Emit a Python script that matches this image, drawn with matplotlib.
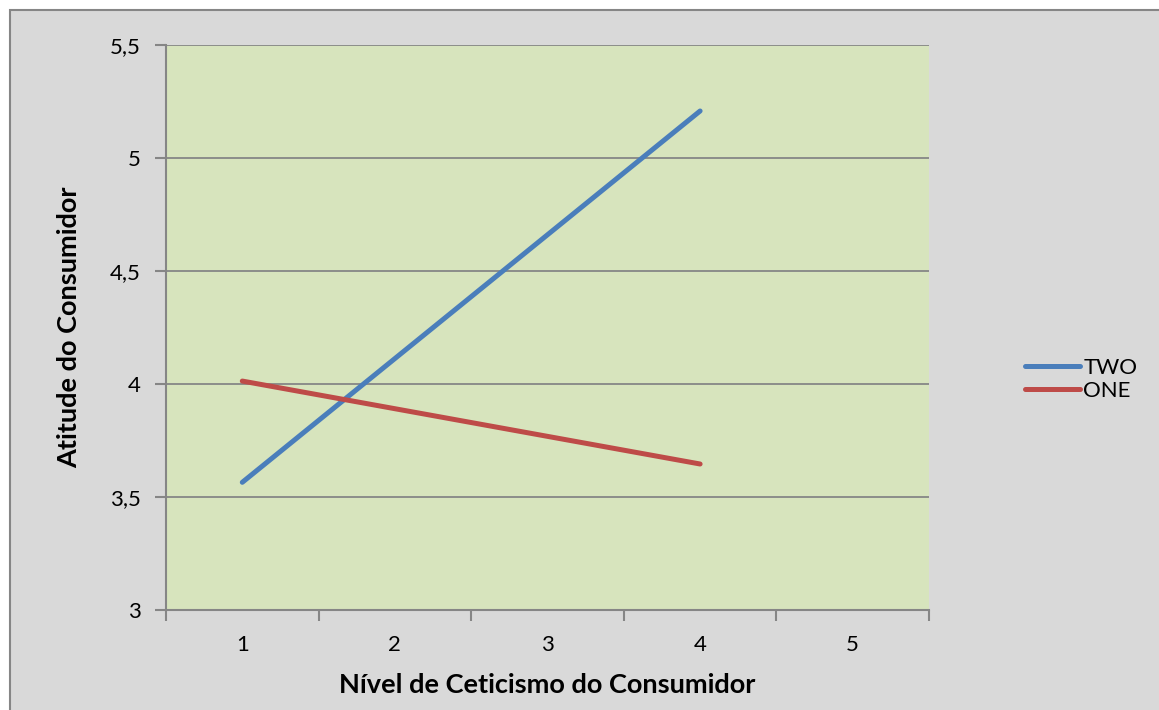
import matplotlib.pyplot as plt
from matplotlib.patches import Rectangle

plt.rcParams["font.family"] = ["Lato", "DejaVu Sans"]

# dados
niveis = [1, 4]
two = [3.565, 5.208]
one = [4.013, 3.646]
categorias = ["1", "2", "3", "4", "5"]
y_ticks = [3, 3.5, 4, 4.5, 5, 5.5]
y_labels = ["3", "3,5", "4", "4,5", "5", "5,5"]

W, H = 1159, 710
fig = plt.figure(figsize=(W / 100, H / 100), dpi=100, facecolor="white")

# fundo cinza da área do gráfico (com borda)
fig.patches.append(
    Rectangle((9.5 / W, -0.05), 1.1, 1 - 9.5 / H + 0.05,
              transform=fig.transFigure, facecolor="#d9d9d9",
              edgecolor="#868686", linewidth=1.5, zorder=-1)
)

ax = fig.add_axes([166 / W, 1 - 610 / H, (929 - 166) / W, (610 - 45) / H])
ax.set_facecolor("#d7e4bd")

ax.plot(niveis, two, color="#4a7ebb", linewidth=3.6, label="TWO",
        solid_capstyle="round", zorder=3)
ax.plot(niveis, one, color="#be4b48", linewidth=3.6, label="ONE",
        solid_capstyle="round", zorder=3)

ax.set_xlim(0.5, 5.5)
ax.set_ylim(3, 5.5)

ax.set_yticks(y_ticks)
ax.set_yticklabels(y_labels)
ax.set_xticks([i + 1.5 for i in range(-1, 5)])
ax.set_xticklabels([])
ax.set_xticks(range(1, 6), minor=True)
ax.set_xticklabels(categorias, minor=True)

ax.tick_params(axis="y", length=8, width=1.5, color="#868686",
               labelsize=16, pad=10)
ax.tick_params(axis="x", which="major", length=8, width=1.5, color="#868686")
ax.tick_params(axis="x", which="minor", length=0, labelsize=16, pad=18)

ax.grid(axis="y", color="#868686", linewidth=1.3)
ax.set_axisbelow(True)
for s in ["top", "right"]:
    ax.spines[s].set_visible(False)
for s in ["left", "bottom"]:
    ax.spines[s].set_color("#868686")
    ax.spines[s].set_linewidth(1.5)

ax.set_xlabel("Nível de Ceticismo do Consumidor", fontsize=19.5,
              fontweight="bold", labelpad=13)
ax.set_ylabel("Atitude do Consumidor", fontsize=19.5, fontweight="bold",
              labelpad=21)

leg = ax.legend(loc="center left", bbox_to_anchor=(1.099, 0.408),
                frameon=False, fontsize=16, handlelength=2.5,
                handletextpad=0.15, labelspacing=0.12)

fig.savefig("out.png", dpi=100, facecolor=fig.get_facecolor())
